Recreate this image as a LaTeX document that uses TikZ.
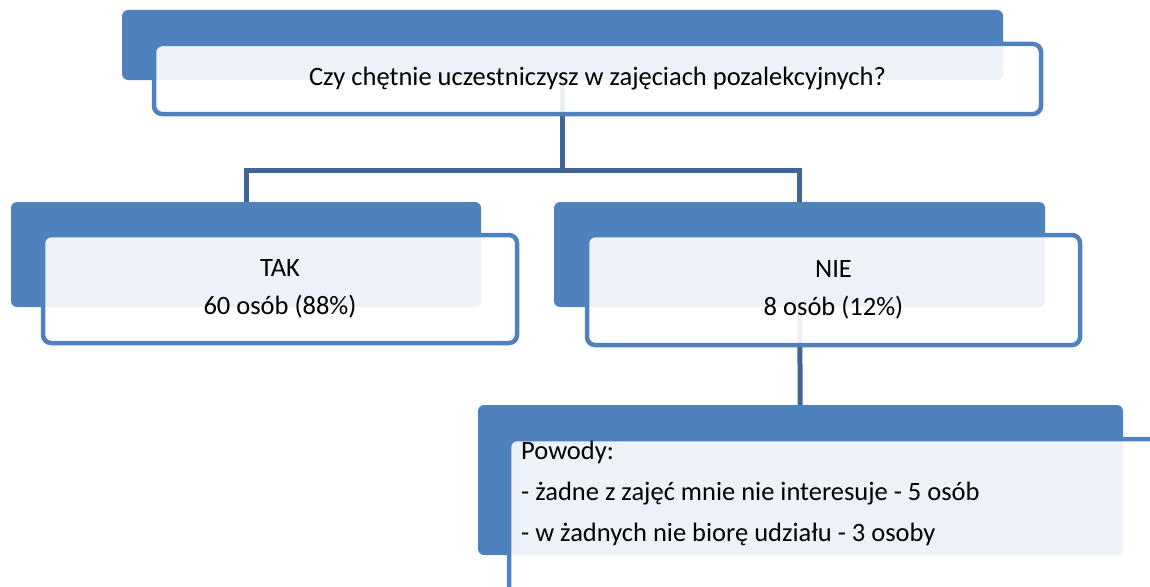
\documentclass[tikz,border=0pt]{standalone}
\usepackage{fontspec}
\setmainfont{Carlito}
\usetikzlibrary{positioning}
\definecolor{boxblue}{HTML}{4F81BD}
\definecolor{linkblue}{HTML}{3F6597}
\tikzset{
  backbox/.style 2 args={rectangle, rounded corners=6pt, fill=boxblue,
    inner sep=0pt, minimum width=#1, minimum height=#2},
  frontbox/.style 2 args={rectangle, rounded corners=8pt, draw=boxblue,
    line width=4.5pt, fill=white, fill opacity=0.9, text opacity=1,
    inner sep=0pt, minimum width=#1, minimum height=#2, align=center},
  link/.style={draw=linkblue, line width=5pt}
}
\begin{document}
\begin{tikzpicture}[x=1pt,y=-1pt,font=\fontsize{26.5}{38}\selectfont]
  \clip (0,0) rectangle (1150,586);
  \fill[white] (0,0) rectangle (1150,586);
  % back boxes
  \node[backbox={881pt}{70pt}] (qback) at (562.5,45) {};
  \node[backbox={470pt}{105pt}] (takback) at (246,254.5) {};
  \node[backbox={491pt}{105pt}] (nieback) at (799.5,254.5) {};
  \node[backbox={645pt}{150pt}] (powback) at (800.5,480) {};
  % connectors
  \coordinate (fork) at (562.5,170);
  \draw[link] (qback) -- (fork) -| (takback);
  \draw[link] (fork) -| (nieback);
  \draw[link] (nieback) -- (powback);
  % front boxes
  \node[frontbox={887pt}{70pt}] (qfront) at (597.5,79)
    {Czy chętnie uczestniczysz w zajęciach pozalekcyjnych?};
  \node[frontbox={474pt}{108pt}] (takfront) at (280,289)
    {TAK\\60 osób (88\%)};
  \node[frontbox={493pt}{110pt}] (niefront) at (833.5,290)
    {NIE\\8 osób (12\%)};
  \node[frontbox={691pt}{201pt}] (powfront) at (854.5,539.5) {};
  \node[anchor=north west, inner sep=0pt, align=left,
    font=\fontsize{26.5}{41}\selectfont] (powtext) at (521,441)
    {Powody:\\- żadne z zajęć mnie nie interesuje - 5 osób\\- w żadnych nie biorę udziału - 3 osoby};
\end{tikzpicture}
\end{document}
